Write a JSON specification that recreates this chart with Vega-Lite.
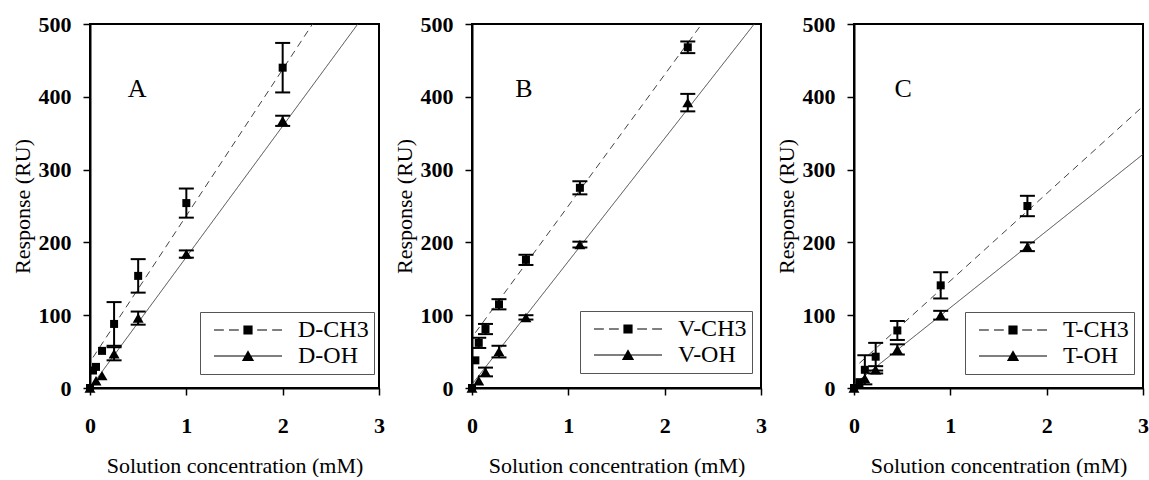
{
  "$schema": "https://vega.github.io/schema/vega-lite/v6.json",
  "padding": {"left": 10, "top": 12, "right": 0, "bottom": 0},
  "spacing": 6,
  "datasets": {
    "pts": [
      {"panel": "A", "series": "CH3", "x": 0, "y": 0, "lo": null, "hi": null},
      {"panel": "A", "series": "CH3", "x": 0.03125, "y": 24, "lo": null, "hi": null},
      {"panel": "A", "series": "CH3", "x": 0.0625, "y": 29, "lo": null, "hi": null},
      {"panel": "A", "series": "CH3", "x": 0.125, "y": 51, "lo": null, "hi": null},
      {"panel": "A", "series": "CH3", "x": 0.25, "y": 88, "lo": 58, "hi": 118},
      {"panel": "A", "series": "CH3", "x": 0.5, "y": 154, "lo": 131, "hi": 177},
      {"panel": "A", "series": "CH3", "x": 1, "y": 254, "lo": 234, "hi": 274},
      {"panel": "A", "series": "CH3", "x": 2, "y": 440, "lo": 406, "hi": 474},
      {"panel": "A", "series": "OH", "x": 0, "y": 0, "lo": null, "hi": null},
      {"panel": "A", "series": "OH", "x": 0.0625, "y": 10, "lo": null, "hi": null},
      {"panel": "A", "series": "OH", "x": 0.125, "y": 17, "lo": null, "hi": null},
      {"panel": "A", "series": "OH", "x": 0.25, "y": 47, "lo": 38, "hi": 56},
      {"panel": "A", "series": "OH", "x": 0.5, "y": 96, "lo": 87, "hi": 105},
      {"panel": "A", "series": "OH", "x": 1, "y": 184, "lo": 179, "hi": 189},
      {"panel": "A", "series": "OH", "x": 2, "y": 367, "lo": 360, "hi": 374},
      {"panel": "B", "series": "CH3", "x": 0, "y": 0, "lo": null, "hi": null},
      {"panel": "B", "series": "CH3", "x": 0.035, "y": 38, "lo": null, "hi": null},
      {"panel": "B", "series": "CH3", "x": 0.07, "y": 62, "lo": 55, "hi": 69},
      {"panel": "B", "series": "CH3", "x": 0.14, "y": 81, "lo": 74, "hi": 88},
      {"panel": "B", "series": "CH3", "x": 0.28, "y": 115, "lo": 108, "hi": 122},
      {"panel": "B", "series": "CH3", "x": 0.56, "y": 176, "lo": 169, "hi": 183},
      {"panel": "B", "series": "CH3", "x": 1.12, "y": 275, "lo": 266, "hi": 284},
      {"panel": "B", "series": "CH3", "x": 2.24, "y": 468, "lo": 460, "hi": 476},
      {"panel": "B", "series": "OH", "x": 0, "y": 0, "lo": null, "hi": null},
      {"panel": "B", "series": "OH", "x": 0.07, "y": 10, "lo": null, "hi": null},
      {"panel": "B", "series": "OH", "x": 0.14, "y": 22, "lo": 16, "hi": 28},
      {"panel": "B", "series": "OH", "x": 0.28, "y": 50, "lo": 42, "hi": 58},
      {"panel": "B", "series": "OH", "x": 0.56, "y": 97, "lo": 94, "hi": 100},
      {"panel": "B", "series": "OH", "x": 1.12, "y": 197, "lo": 193, "hi": 201},
      {"panel": "B", "series": "OH", "x": 2.24, "y": 392, "lo": 380, "hi": 404},
      {"panel": "C", "series": "CH3", "x": 0, "y": 0, "lo": null, "hi": null},
      {"panel": "C", "series": "CH3", "x": 0.056, "y": 8, "lo": null, "hi": null},
      {"panel": "C", "series": "CH3", "x": 0.1125, "y": 25, "lo": 5, "hi": 45},
      {"panel": "C", "series": "CH3", "x": 0.225, "y": 43, "lo": 24, "hi": 62},
      {"panel": "C", "series": "CH3", "x": 0.45, "y": 79, "lo": 66, "hi": 92},
      {"panel": "C", "series": "CH3", "x": 0.9, "y": 141, "lo": 123, "hi": 159},
      {"panel": "C", "series": "CH3", "x": 1.8, "y": 250, "lo": 236, "hi": 264},
      {"panel": "C", "series": "OH", "x": 0, "y": 0, "lo": null, "hi": null},
      {"panel": "C", "series": "OH", "x": 0.056, "y": 5, "lo": null, "hi": null},
      {"panel": "C", "series": "OH", "x": 0.1125, "y": 13, "lo": null, "hi": null},
      {"panel": "C", "series": "OH", "x": 0.225, "y": 25, "lo": 20, "hi": 30},
      {"panel": "C", "series": "OH", "x": 0.45, "y": 53, "lo": 46, "hi": 60},
      {"panel": "C", "series": "OH", "x": 0.9, "y": 100, "lo": 94, "hi": 106},
      {"panel": "C", "series": "OH", "x": 1.8, "y": 194, "lo": 188, "hi": 200}
    ],
    "fits": [
      {"panel": "A", "series": "CH3", "label": "D-CH3", "x": 0.03125, "y": 42},
      {"panel": "A", "series": "CH3", "label": "D-CH3", "x": 2.31, "y": 500},
      {"panel": "A", "series": "OH", "label": "D-OH", "x": 0, "y": 0},
      {"panel": "A", "series": "OH", "label": "D-OH", "x": 2.78, "y": 500},
      {"panel": "B", "series": "CH3", "label": "V-CH3", "x": 0.035, "y": 76},
      {"panel": "B", "series": "CH3", "label": "V-CH3", "x": 2.385, "y": 500},
      {"panel": "B", "series": "OH", "label": "V-OH", "x": 0, "y": 5},
      {"panel": "B", "series": "OH", "label": "V-OH", "x": 2.93, "y": 500},
      {"panel": "C", "series": "CH3", "label": "T-CH3", "x": 0.056, "y": 34},
      {"panel": "C", "series": "CH3", "label": "T-CH3", "x": 3, "y": 387},
      {"panel": "C", "series": "OH", "label": "T-OH", "x": 0, "y": 5},
      {"panel": "C", "series": "OH", "label": "T-OH", "x": 3, "y": 321}
    ],
    "one": [{}]
  },
  "hconcat": [
    {
      "width": 289, "height": 364,
      "view": {"stroke": "black", "strokeWidth": 2, "fill": "white"},
      "layer": [
        {"data": {"name": "fits"}, "transform": [{"filter": "datum.panel === 'A'"}],
         "mark": {"type": "line", "strokeWidth": 1, "color": "#444"},
         "encoding": {
           "x": {"field": "x", "type": "quantitative", "title": "Solution concentration (mM)", "scale": {"domain": [0, 3], "nice": false}, "axis": {"values": [0, 1, 2, 3], "format": "d"}},
           "y": {"field": "y", "type": "quantitative", "title": "Response (RU)", "scale": {"domain": [0, 500], "nice": false}, "axis": {"values": [0, 100, 200, 300, 400, 500], "format": "d"}},
           "detail": {"field": "series"},
           "strokeDash": {"field": "series", "type": "nominal", "scale": {"domain": ["CH3", "OH"], "range": [[7, 5], [1, 0]]}, "legend": null}
         }},
        {"data": {"name": "pts"}, "transform": [{"filter": "datum.panel === 'A' && isValid(datum.lo)"}],
         "mark": {"type": "rule", "strokeWidth": 2, "color": "black"},
         "encoding": {
           "x": {"field": "x", "type": "quantitative", "title": "Solution concentration (mM)"},
           "y": {"field": "lo", "type": "quantitative", "title": "Response (RU)"},
           "y2": {"field": "hi"}
         }},
        {"data": {"name": "pts"}, "transform": [{"filter": "datum.panel === 'A' && isValid(datum.lo)"}],
         "mark": {"type": "tick", "orient": "horizontal", "size": 15, "thickness": 2, "color": "black", "opacity": 1},
         "encoding": {
           "x": {"field": "x", "type": "quantitative", "title": "Solution concentration (mM)"},
           "y": {"field": "lo", "type": "quantitative", "title": "Response (RU)"}
         }},
        {"data": {"name": "pts"}, "transform": [{"filter": "datum.panel === 'A' && isValid(datum.hi)"}],
         "mark": {"type": "tick", "orient": "horizontal", "size": 15, "thickness": 2, "color": "black", "opacity": 1},
         "encoding": {
           "x": {"field": "x", "type": "quantitative", "title": "Solution concentration (mM)"},
           "y": {"field": "hi", "type": "quantitative", "title": "Response (RU)"}
         }},
        {"data": {"name": "pts"}, "transform": [{"filter": "datum.panel === 'A' && datum.series === 'CH3'"}],
         "mark": {"type": "point", "shape": "square", "filled": true, "size": 64, "color": "black", "opacity": 1},
         "encoding": {
           "x": {"field": "x", "type": "quantitative", "title": "Solution concentration (mM)"},
           "y": {"field": "y", "type": "quantitative", "title": "Response (RU)"}
         }},
        {"data": {"name": "pts"}, "transform": [{"filter": "datum.panel === 'A' && datum.series === 'OH'"}],
         "mark": {"type": "point", "shape": "triangle-up", "filled": true, "size": 120, "color": "black", "opacity": 1},
         "encoding": {
           "x": {"field": "x", "type": "quantitative", "title": "Solution concentration (mM)"},
           "y": {"field": "y", "type": "quantitative", "title": "Response (RU)"}
         }},
        {"data": {"name": "fits"}, "transform": [{"filter": "datum.panel === 'A'"}],
         "mark": {"type": "point", "filled": true, "opacity": 0, "color": "black"},
         "encoding": {
           "x": {"field": "x", "type": "quantitative", "title": "Solution concentration (mM)"},
           "y": {"field": "y", "type": "quantitative", "title": "Response (RU)"},
           "shape": {"field": "label", "type": "nominal",
             "scale": {"domain": ["D-CH3", "D-OH"], "range": ["M-1,-0.018H-0.71V0.018H-1Z M-0.56,-0.018H-0.27V0.018H-0.56Z M-0.135,-0.135H0.135V0.135H-0.135Z M0.27,-0.018H0.56V0.018H0.27Z M0.71,-0.018H1V0.018H0.71Z", "M-1,-0.018H1V0.018H-1Z M-0.18,0.15L0,-0.17L0.18,0.15Z"]},
             "legend": {"title": null, "orient": "none", "legendX": 110, "legendY": 288, "symbolSize": 4624, "symbolStrokeWidth": 0, "symbolFillColor": "#111", "symbolOpacity": 1, "clipHeight": 26, "rowPadding": 0, "padding": 5, "symbolOffset": 9, "labelOffset": 16, "labelFont": "Liberation Serif", "labelFontSize": 24, "labelColor": "black", "labelLimit": 0, "strokeColor": "#555", "fillColor": "white", "cornerRadius": 0}}
         }},
        {"data": {"name": "one"},
         "mark": {"type": "text", "text": "A", "font": "Liberation Serif", "fontSize": 26, "align": "center", "baseline": "alphabetic", "color": "black"},
         "encoding": {"x": {"datum": 0.49, "type": "quantitative"}, "y": {"datum": 400, "type": "quantitative"}}}
      ]
    },
    {
      "width": 289, "height": 364,
      "view": {"stroke": "black", "strokeWidth": 2, "fill": "white"},
      "layer": [
        {"data": {"name": "fits"}, "transform": [{"filter": "datum.panel === 'B'"}],
         "mark": {"type": "line", "strokeWidth": 1, "color": "#444"},
         "encoding": {
           "x": {"field": "x", "type": "quantitative", "title": "Solution concentration (mM)", "scale": {"domain": [0, 3], "nice": false}, "axis": {"values": [0, 1, 2, 3], "format": "d"}},
           "y": {"field": "y", "type": "quantitative", "title": "Response (RU)", "scale": {"domain": [0, 500], "nice": false}, "axis": {"values": [0, 100, 200, 300, 400, 500], "format": "d"}},
           "detail": {"field": "series"},
           "strokeDash": {"field": "series", "type": "nominal", "scale": {"domain": ["CH3", "OH"], "range": [[7, 5], [1, 0]]}, "legend": null}
         }},
        {"data": {"name": "pts"}, "transform": [{"filter": "datum.panel === 'B' && isValid(datum.lo)"}],
         "mark": {"type": "rule", "strokeWidth": 2, "color": "black"},
         "encoding": {
           "x": {"field": "x", "type": "quantitative", "title": "Solution concentration (mM)"},
           "y": {"field": "lo", "type": "quantitative", "title": "Response (RU)"},
           "y2": {"field": "hi"}
         }},
        {"data": {"name": "pts"}, "transform": [{"filter": "datum.panel === 'B' && isValid(datum.lo)"}],
         "mark": {"type": "tick", "orient": "horizontal", "size": 15, "thickness": 2, "color": "black", "opacity": 1},
         "encoding": {
           "x": {"field": "x", "type": "quantitative", "title": "Solution concentration (mM)"},
           "y": {"field": "lo", "type": "quantitative", "title": "Response (RU)"}
         }},
        {"data": {"name": "pts"}, "transform": [{"filter": "datum.panel === 'B' && isValid(datum.hi)"}],
         "mark": {"type": "tick", "orient": "horizontal", "size": 15, "thickness": 2, "color": "black", "opacity": 1},
         "encoding": {
           "x": {"field": "x", "type": "quantitative", "title": "Solution concentration (mM)"},
           "y": {"field": "hi", "type": "quantitative", "title": "Response (RU)"}
         }},
        {"data": {"name": "pts"}, "transform": [{"filter": "datum.panel === 'B' && datum.series === 'CH3'"}],
         "mark": {"type": "point", "shape": "square", "filled": true, "size": 64, "color": "black", "opacity": 1},
         "encoding": {
           "x": {"field": "x", "type": "quantitative", "title": "Solution concentration (mM)"},
           "y": {"field": "y", "type": "quantitative", "title": "Response (RU)"}
         }},
        {"data": {"name": "pts"}, "transform": [{"filter": "datum.panel === 'B' && datum.series === 'OH'"}],
         "mark": {"type": "point", "shape": "triangle-up", "filled": true, "size": 120, "color": "black", "opacity": 1},
         "encoding": {
           "x": {"field": "x", "type": "quantitative", "title": "Solution concentration (mM)"},
           "y": {"field": "y", "type": "quantitative", "title": "Response (RU)"}
         }},
        {"data": {"name": "fits"}, "transform": [{"filter": "datum.panel === 'B'"}],
         "mark": {"type": "point", "filled": true, "opacity": 0, "color": "black"},
         "encoding": {
           "x": {"field": "x", "type": "quantitative", "title": "Solution concentration (mM)"},
           "y": {"field": "y", "type": "quantitative", "title": "Response (RU)"},
           "shape": {"field": "label", "type": "nominal",
             "scale": {"domain": ["V-CH3", "V-OH"], "range": ["M-1,-0.018H-0.71V0.018H-1Z M-0.56,-0.018H-0.27V0.018H-0.56Z M-0.135,-0.135H0.135V0.135H-0.135Z M0.27,-0.018H0.56V0.018H0.27Z M0.71,-0.018H1V0.018H0.71Z", "M-1,-0.018H1V0.018H-1Z M-0.18,0.15L0,-0.17L0.18,0.15Z"]},
             "legend": {"title": null, "orient": "none", "legendX": 108, "legendY": 287, "symbolSize": 4624, "symbolStrokeWidth": 0, "symbolFillColor": "#111", "symbolOpacity": 1, "clipHeight": 26, "rowPadding": 0, "padding": 5, "symbolOffset": 9, "labelOffset": 16, "labelFont": "Liberation Serif", "labelFontSize": 24, "labelColor": "black", "labelLimit": 0, "strokeColor": "#555", "fillColor": "white", "cornerRadius": 0}}
         }},
        {"data": {"name": "one"},
         "mark": {"type": "text", "text": "B", "font": "Liberation Serif", "fontSize": 26, "align": "center", "baseline": "alphabetic", "color": "black"},
         "encoding": {"x": {"datum": 0.54, "type": "quantitative"}, "y": {"datum": 400, "type": "quantitative"}}}
      ]
    },
    {
      "width": 289, "height": 364,
      "view": {"stroke": "black", "strokeWidth": 2, "fill": "white"},
      "layer": [
        {"data": {"name": "fits"}, "transform": [{"filter": "datum.panel === 'C'"}],
         "mark": {"type": "line", "strokeWidth": 1, "color": "#444"},
         "encoding": {
           "x": {"field": "x", "type": "quantitative", "title": "Solution concentration (mM)", "scale": {"domain": [0, 3], "nice": false}, "axis": {"values": [0, 1, 2, 3], "format": "d"}},
           "y": {"field": "y", "type": "quantitative", "title": "Response (RU)", "scale": {"domain": [0, 500], "nice": false}, "axis": {"values": [0, 100, 200, 300, 400, 500], "format": "d"}},
           "detail": {"field": "series"},
           "strokeDash": {"field": "series", "type": "nominal", "scale": {"domain": ["CH3", "OH"], "range": [[7, 5], [1, 0]]}, "legend": null}
         }},
        {"data": {"name": "pts"}, "transform": [{"filter": "datum.panel === 'C' && isValid(datum.lo)"}],
         "mark": {"type": "rule", "strokeWidth": 2, "color": "black"},
         "encoding": {
           "x": {"field": "x", "type": "quantitative", "title": "Solution concentration (mM)"},
           "y": {"field": "lo", "type": "quantitative", "title": "Response (RU)"},
           "y2": {"field": "hi"}
         }},
        {"data": {"name": "pts"}, "transform": [{"filter": "datum.panel === 'C' && isValid(datum.lo)"}],
         "mark": {"type": "tick", "orient": "horizontal", "size": 15, "thickness": 2, "color": "black", "opacity": 1},
         "encoding": {
           "x": {"field": "x", "type": "quantitative", "title": "Solution concentration (mM)"},
           "y": {"field": "lo", "type": "quantitative", "title": "Response (RU)"}
         }},
        {"data": {"name": "pts"}, "transform": [{"filter": "datum.panel === 'C' && isValid(datum.hi)"}],
         "mark": {"type": "tick", "orient": "horizontal", "size": 15, "thickness": 2, "color": "black", "opacity": 1},
         "encoding": {
           "x": {"field": "x", "type": "quantitative", "title": "Solution concentration (mM)"},
           "y": {"field": "hi", "type": "quantitative", "title": "Response (RU)"}
         }},
        {"data": {"name": "pts"}, "transform": [{"filter": "datum.panel === 'C' && datum.series === 'CH3'"}],
         "mark": {"type": "point", "shape": "square", "filled": true, "size": 64, "color": "black", "opacity": 1},
         "encoding": {
           "x": {"field": "x", "type": "quantitative", "title": "Solution concentration (mM)"},
           "y": {"field": "y", "type": "quantitative", "title": "Response (RU)"}
         }},
        {"data": {"name": "pts"}, "transform": [{"filter": "datum.panel === 'C' && datum.series === 'OH'"}],
         "mark": {"type": "point", "shape": "triangle-up", "filled": true, "size": 120, "color": "black", "opacity": 1},
         "encoding": {
           "x": {"field": "x", "type": "quantitative", "title": "Solution concentration (mM)"},
           "y": {"field": "y", "type": "quantitative", "title": "Response (RU)"}
         }},
        {"data": {"name": "fits"}, "transform": [{"filter": "datum.panel === 'C'"}],
         "mark": {"type": "point", "filled": true, "opacity": 0, "color": "black"},
         "encoding": {
           "x": {"field": "x", "type": "quantitative", "title": "Solution concentration (mM)"},
           "y": {"field": "y", "type": "quantitative", "title": "Response (RU)"},
           "shape": {"field": "label", "type": "nominal",
             "scale": {"domain": ["T-CH3", "T-OH"], "range": ["M-1,-0.018H-0.71V0.018H-1Z M-0.56,-0.018H-0.27V0.018H-0.56Z M-0.135,-0.135H0.135V0.135H-0.135Z M0.27,-0.018H0.56V0.018H0.27Z M0.71,-0.018H1V0.018H0.71Z", "M-1,-0.018H1V0.018H-1Z M-0.18,0.15L0,-0.17L0.18,0.15Z"]},
             "legend": {"title": null, "orient": "none", "legendX": 111, "legendY": 288, "symbolSize": 4624, "symbolStrokeWidth": 0, "symbolFillColor": "#111", "symbolOpacity": 1, "clipHeight": 26, "rowPadding": 0, "padding": 5, "symbolOffset": 9, "labelOffset": 16, "labelFont": "Liberation Serif", "labelFontSize": 24, "labelColor": "black", "labelLimit": 0, "strokeColor": "#555", "fillColor": "white", "cornerRadius": 0}}
         }},
        {"data": {"name": "one"},
         "mark": {"type": "text", "text": "C", "font": "Liberation Serif", "fontSize": 26, "align": "center", "baseline": "alphabetic", "color": "black"},
         "encoding": {"x": {"datum": 0.51, "type": "quantitative"}, "y": {"datum": 400, "type": "quantitative"}}}
      ]
    }
  ],
  "resolve": {"scale": {"shape": "independent", "strokeDash": "independent"}, "legend": {"shape": "independent"}},
  "config": {
    "font": "Liberation Serif",
    "background": "white",
    "view": {"stroke": "black", "strokeWidth": 2},
    "axis": {"grid": false, "domainColor": "black", "domainWidth": 2, "tickColor": "black", "tickWidth": 1.5, "tickSize": 7, "labelFont": "Liberation Serif", "labelFontSize": 22, "labelFontWeight": "bold", "labelColor": "black", "titleFont": "Liberation Serif", "titleFontSize": 22, "titleFontWeight": "normal", "titleColor": "black", "labelOverlap": false},
    "axisX": {"labelFlush": false, "labelPadding": 20, "titlePadding": 19},
    "axisY": {"labelPadding": 12, "titlePadding": 4}
  }
}
